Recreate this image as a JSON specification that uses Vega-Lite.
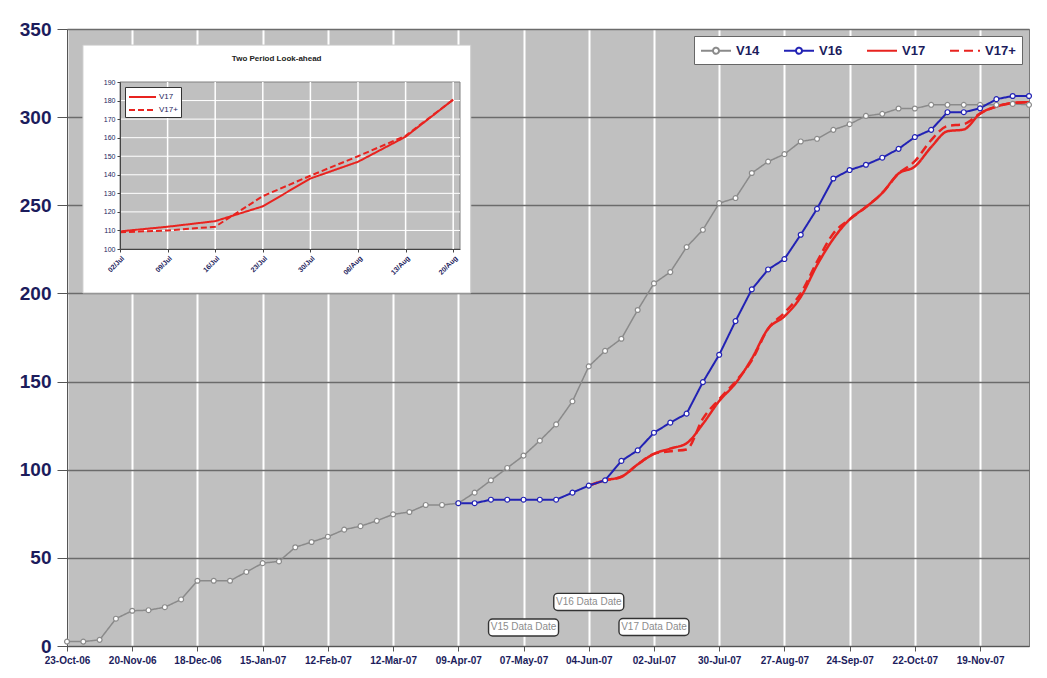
{
"$schema":"https://vega.github.io/schema/vega-lite/v6.json",
"width":962,"height":617,
"autosize":{"type":"none"},
"padding":{"left":67,"top":29,"right":18,"bottom":32},
"background":"white",
"config":{"font":"Liberation Sans","view":{"fill":"#c0c0c0","stroke":"#7a7a7a","strokeWidth":1}},
"data":{"values":[{}]},
"datasets":{
"main":[
{"series":"V14","date":"2006-10-23","value":2.5},{"series":"V14","date":"2006-10-30","value":2.5},{"series":"V14","date":"2006-11-06","value":3.5},{"series":"V14","date":"2006-11-13","value":15.5},{"series":"V14","date":"2006-11-20","value":20},{"series":"V14","date":"2006-11-27","value":20.3},{"series":"V14","date":"2006-12-04","value":22},{"series":"V14","date":"2006-12-11","value":26.4},{"series":"V14","date":"2006-12-18","value":37},{"series":"V14","date":"2006-12-25","value":37},{"series":"V14","date":"2007-01-01","value":37},{"series":"V14","date":"2007-01-08","value":42},{"series":"V14","date":"2007-01-15","value":47},{"series":"V14","date":"2007-01-22","value":48},{"series":"V14","date":"2007-01-29","value":56},{"series":"V14","date":"2007-02-05","value":59},{"series":"V14","date":"2007-02-12","value":62},{"series":"V14","date":"2007-02-19","value":66},{"series":"V14","date":"2007-02-26","value":68},{"series":"V14","date":"2007-03-05","value":71},{"series":"V14","date":"2007-03-12","value":74.7},{"series":"V14","date":"2007-03-19","value":76},{"series":"V14","date":"2007-03-26","value":80},{"series":"V14","date":"2007-04-02","value":80},{"series":"V14","date":"2007-04-09","value":81},{"series":"V14","date":"2007-04-16","value":87},{"series":"V14","date":"2007-04-23","value":94},{"series":"V14","date":"2007-04-30","value":101},{"series":"V14","date":"2007-05-07","value":108},{"series":"V14","date":"2007-05-14","value":116.5},{"series":"V14","date":"2007-05-21","value":125.7},{"series":"V14","date":"2007-05-28","value":138.8},{"series":"V14","date":"2007-06-04","value":158.6},{"series":"V14","date":"2007-06-11","value":167.4},{"series":"V14","date":"2007-06-18","value":174.3},{"series":"V14","date":"2007-06-25","value":190.6},{"series":"V14","date":"2007-07-02","value":205.7},{"series":"V14","date":"2007-07-09","value":212.1},{"series":"V14","date":"2007-07-16","value":226.3},{"series":"V14","date":"2007-07-23","value":236.1},{"series":"V14","date":"2007-07-30","value":251.2},{"series":"V14","date":"2007-08-06","value":254.1},{"series":"V14","date":"2007-08-13","value":268.3},{"series":"V14","date":"2007-08-20","value":274.8},{"series":"V14","date":"2007-08-27","value":279},{"series":"V14","date":"2007-09-03","value":286.2},{"series":"V14","date":"2007-09-10","value":287.7},{"series":"V14","date":"2007-09-17","value":292.8},{"series":"V14","date":"2007-09-24","value":296},{"series":"V14","date":"2007-10-01","value":300.7},{"series":"V14","date":"2007-10-08","value":301.9},{"series":"V14","date":"2007-10-15","value":304.9},{"series":"V14","date":"2007-10-22","value":304.9},{"series":"V14","date":"2007-10-29","value":307},{"series":"V14","date":"2007-11-05","value":307},{"series":"V14","date":"2007-11-12","value":307},{"series":"V14","date":"2007-11-19","value":307},{"series":"V14","date":"2007-11-26","value":307},{"series":"V14","date":"2007-12-03","value":307.5},{"series":"V14","date":"2007-12-10","value":307},
{"series":"V16","date":"2007-04-09","value":81},{"series":"V16","date":"2007-04-16","value":81},{"series":"V16","date":"2007-04-23","value":83},{"series":"V16","date":"2007-04-30","value":83},{"series":"V16","date":"2007-05-07","value":83},{"series":"V16","date":"2007-05-14","value":83},{"series":"V16","date":"2007-05-21","value":83},{"series":"V16","date":"2007-05-28","value":87},{"series":"V16","date":"2007-06-04","value":91},{"series":"V16","date":"2007-06-11","value":94},{"series":"V16","date":"2007-06-18","value":105},{"series":"V16","date":"2007-06-25","value":111},{"series":"V16","date":"2007-07-02","value":121},{"series":"V16","date":"2007-07-09","value":126.7},{"series":"V16","date":"2007-07-16","value":131.8},{"series":"V16","date":"2007-07-23","value":149.7},{"series":"V16","date":"2007-07-30","value":165.2},{"series":"V16","date":"2007-08-06","value":184.3},{"series":"V16","date":"2007-08-13","value":202.3},{"series":"V16","date":"2007-08-20","value":213.6},{"series":"V16","date":"2007-08-27","value":219.5},{"series":"V16","date":"2007-09-03","value":233.3},{"series":"V16","date":"2007-09-10","value":248},{"series":"V16","date":"2007-09-17","value":265.2},{"series":"V16","date":"2007-09-24","value":270},{"series":"V16","date":"2007-10-01","value":273},{"series":"V16","date":"2007-10-08","value":277},{"series":"V16","date":"2007-10-15","value":282},{"series":"V16","date":"2007-10-22","value":288.7},{"series":"V16","date":"2007-10-29","value":292.8},{"series":"V16","date":"2007-11-05","value":302.8},{"series":"V16","date":"2007-11-12","value":302.8},{"series":"V16","date":"2007-11-19","value":305},{"series":"V16","date":"2007-11-26","value":310.2},{"series":"V16","date":"2007-12-03","value":312},{"series":"V16","date":"2007-12-10","value":312},
{"series":"V17","date":"2007-06-04","value":91},{"series":"V17","date":"2007-06-11","value":94},{"series":"V17","date":"2007-06-18","value":96},{"series":"V17","date":"2007-06-25","value":103},{"series":"V17","date":"2007-07-02","value":109},{"series":"V17","date":"2007-07-09","value":112},{"series":"V17","date":"2007-07-16","value":115},{"series":"V17","date":"2007-07-23","value":126},{"series":"V17","date":"2007-07-30","value":139},{"series":"V17","date":"2007-08-06","value":149},{"series":"V17","date":"2007-08-13","value":163},{"series":"V17","date":"2007-08-20","value":180},{"series":"V17","date":"2007-08-27","value":187},{"series":"V17","date":"2007-09-03","value":198},{"series":"V17","date":"2007-09-10","value":216},{"series":"V17","date":"2007-09-17","value":231},{"series":"V17","date":"2007-09-24","value":242},{"series":"V17","date":"2007-10-01","value":249},{"series":"V17","date":"2007-10-08","value":257},{"series":"V17","date":"2007-10-15","value":268},{"series":"V17","date":"2007-10-22","value":272},{"series":"V17","date":"2007-10-29","value":283},{"series":"V17","date":"2007-11-05","value":292},{"series":"V17","date":"2007-11-12","value":293},{"series":"V17","date":"2007-11-19","value":302},{"series":"V17","date":"2007-11-26","value":306},{"series":"V17","date":"2007-12-03","value":308},{"series":"V17","date":"2007-12-10","value":308.5},
{"series":"V17+","date":"2007-06-04","value":91},{"series":"V17+","date":"2007-06-11","value":94},{"series":"V17+","date":"2007-06-18","value":96},{"series":"V17+","date":"2007-06-25","value":103},{"series":"V17+","date":"2007-07-02","value":109},{"series":"V17+","date":"2007-07-09","value":110.5},{"series":"V17+","date":"2007-07-16","value":111.5},{"series":"V17+","date":"2007-07-23","value":129},{"series":"V17+","date":"2007-07-30","value":140},{"series":"V17+","date":"2007-08-06","value":150},{"series":"V17+","date":"2007-08-13","value":162},{"series":"V17+","date":"2007-08-20","value":180},{"series":"V17+","date":"2007-08-27","value":189},{"series":"V17+","date":"2007-09-03","value":200},{"series":"V17+","date":"2007-09-10","value":218},{"series":"V17+","date":"2007-09-17","value":234},{"series":"V17+","date":"2007-09-24","value":242},{"series":"V17+","date":"2007-10-01","value":249},{"series":"V17+","date":"2007-10-08","value":257},{"series":"V17+","date":"2007-10-15","value":268},{"series":"V17+","date":"2007-10-22","value":275},{"series":"V17+","date":"2007-10-29","value":287},{"series":"V17+","date":"2007-11-05","value":295},{"series":"V17+","date":"2007-11-12","value":296},{"series":"V17+","date":"2007-11-19","value":302},{"series":"V17+","date":"2007-11-26","value":306},{"series":"V17+","date":"2007-12-03","value":308},{"series":"V17+","date":"2007-12-10","value":308.5}
],
"labels":[
{"label":"V15 Data Date","date":"2007-05-07","value":10.5},
{"label":"V16 Data Date","date":"2007-06-04","value":25},
{"label":"V17 Data Date","date":"2007-07-02","value":10.8}
],
"inset":[
{"series":"V17","date":"2007-07-02","value":109.5},{"series":"V17","date":"2007-07-09","value":112},{"series":"V17","date":"2007-07-16","value":115},{"series":"V17","date":"2007-07-23","value":123},{"series":"V17","date":"2007-07-30","value":138},{"series":"V17","date":"2007-08-06","value":147},{"series":"V17","date":"2007-08-13","value":160.5},{"series":"V17","date":"2007-08-20","value":180.5},
{"series":"V17+","date":"2007-07-02","value":109},{"series":"V17+","date":"2007-07-09","value":110},{"series":"V17+","date":"2007-07-16","value":112},{"series":"V17+","date":"2007-07-23","value":128.5},{"series":"V17+","date":"2007-07-30","value":139.5},{"series":"V17+","date":"2007-08-06","value":150},{"series":"V17+","date":"2007-08-13","value":161},{"series":"V17+","date":"2007-08-20","value":180.5}
],
"insetYGrid":[{"v":110},{"v":120},{"v":130},{"v":140},{"v":150},{"v":160},{"v":170},{"v":180}],
"insetXGrid":[{"d":"2007-07-09"},{"d":"2007-07-16"},{"d":"2007-07-23"},{"d":"2007-07-30"},{"d":"2007-08-06"},{"d":"2007-08-13"},{"d":"2007-08-20"}]
},
"resolve":{"scale":{"x":"independent","y":"independent","color":"independent","strokeDash":"independent"},"axis":{"x":"independent","y":"independent"},"legend":{"color":"independent","strokeDash":"independent"}},
"layer":[
{
"encoding":{
"x":{"field":"date","type":"temporal",
"scale":{"type":"utc","domain":[{"year":2006,"month":10,"date":23,"utc":true},{"year":2007,"month":12,"date":10,"utc":true}],"nice":false},
"axis":{"orient":"bottom","title":null,"format":"%d-%b-%y","values":[{"year":2006,"month":10,"date":23,"utc":true},{"year":2006,"month":11,"date":20,"utc":true},{"year":2006,"month":12,"date":18,"utc":true},{"year":2007,"month":1,"date":15,"utc":true},{"year":2007,"month":2,"date":12,"utc":true},{"year":2007,"month":3,"date":12,"utc":true},{"year":2007,"month":4,"date":9,"utc":true},{"year":2007,"month":5,"date":7,"utc":true},{"year":2007,"month":6,"date":4,"utc":true},{"year":2007,"month":7,"date":2,"utc":true},{"year":2007,"month":7,"date":30,"utc":true},{"year":2007,"month":8,"date":27,"utc":true},{"year":2007,"month":9,"date":24,"utc":true},{"year":2007,"month":10,"date":22,"utc":true},{"year":2007,"month":11,"date":19,"utc":true}],
"labelFontSize":10,"labelFontWeight":"bold","labelColor":"#1c1c5c","labelPadding":4,"labelFlush":false,"labelOverlap":false,"tickSize":5,"tickColor":"#555","domainColor":"#555","grid":true,"gridColor":"#ffffff","gridWidth":2,"gridOpacity":1}},
"y":{"field":"value","type":"quantitative",
"scale":{"domain":[0,350],"nice":false},
"axis":{"orient":"left","title":null,"values":[0,50,100,150,200,250,300,350],"labelFontSize":19,"labelFontWeight":"bold","labelColor":"#1c1c5c","labelPadding":6,"tickSize":10,"tickColor":"#555","domainColor":"#555","grid":true,"gridColor":"#6b6b6b","gridWidth":1.5,"gridOpacity":1}}
},
"layer":[
{"data":{"name":"main"},"transform":[{"filter":"datum.series === 'V14'"}],
"mark":{"type":"line","strokeWidth":1.5},
"encoding":{
"color":{"field":"series","type":"nominal","scale":{"domain":["V14","V16","V17","V17+"],"range":["#8a8a8a","#2222b4","#e8231f","#e8231f"]},
"legend":{"title":null,"orient":"top-right","offset":7,"direction":"horizontal","fillColor":"white","strokeColor":"#666","padding":6,"labelFontSize":13,"labelFontWeight":"bold","labelColor":"#1c1c5c","symbolType":"M-1,0L3,0","symbolSize":225,"symbolStrokeWidth":2,"symbolFillColor":"white","columnPadding":20,"labelOffset":19,"zindex":3,
"encode":{"symbols":{"update":{"shape":{"signal":"datum.value === 'V14' || datum.value === 'V16' ? 'M-1,0L0.6,0M1.4,0L3,0M0.6,0A0.4,0.4,0,1,1,1.4,0A0.4,0.4,0,1,1,0.6,0' : 'M-1,0L3,0'"},"fill":{"value":"white"}}}}}},
"strokeDash":{"field":"series","type":"nominal","scale":{"domain":["V14","V16","V17","V17+"],"range":[[1,0],[1,0],[1,0],[9,5]]},
"legend":{"title":null,"orient":"top-right","offset":7,"direction":"horizontal","fillColor":"white","strokeColor":"#666","padding":6,"labelFontSize":13,"labelFontWeight":"bold","labelColor":"#1c1c5c","symbolType":"M-1,0L3,0","symbolSize":225,"symbolStrokeWidth":2,"symbolFillColor":"white","columnPadding":20,"labelOffset":19,"zindex":3}}
}},
{"data":{"name":"main"},"transform":[{"filter":"datum.series === 'V17' || datum.series === 'V17+'"}],
"mark":{"type":"line","strokeWidth":2.5,"interpolate":"monotone"},
"encoding":{
"color":{"field":"series","type":"nominal"},
"strokeDash":{"field":"series","type":"nominal"}
}},
{"data":{"name":"main"},"transform":[{"filter":"datum.series === 'V16'"}],
"mark":{"type":"line","strokeWidth":2},
"encoding":{
"color":{"field":"series","type":"nominal"},
"strokeDash":{"field":"series","type":"nominal"}
}},
{"data":{"name":"main"},"transform":[{"filter":"datum.series === 'V14' || datum.series === 'V16'"}],
"mark":{"type":"point","shape":"circle","filled":true,"fill":"white","size":24,"strokeWidth":1.2,"opacity":1},
"encoding":{
"stroke":{"field":"series","type":"nominal","scale":{"domain":["V14","V16"],"range":["#8a8a8a","#2222b4"]},"legend":null}
}},
{"data":{"name":"labels"},
"mark":{"type":"point","shape":"M-0.886,-0.243L0.886,-0.243A0.114,0.114,0,0,1,1,-0.129L1,0.129A0.114,0.114,0,0,1,0.886,0.243L-0.886,0.243A0.114,0.114,0,0,1,-1,0.129L-1,-0.129A0.114,0.114,0,0,1,-0.886,-0.243Z","size":4900,"filled":true,"fill":"white","stroke":"#333","strokeWidth":1.4,"opacity":1}},
{"data":{"name":"labels"},
"mark":{"type":"text","fontSize":10,"color":"#8c8c8c"},
"encoding":{"text":{"field":"label"}}}
]
},
{
"layer":[
{"mark":{"type":"rect","fill":"white","stroke":"#c8c8c8","strokeWidth":1},
"encoding":{
"x":{"datum":{"year":2007,"month":6,"date":26,"hours":13,"utc":true},"type":"temporal",
"scale":{"type":"utc","domain":[{"year":2007,"month":7,"date":2,"utc":true},{"year":2007,"month":8,"date":21,"utc":true}],"range":[53,393],"nice":false},
"axis":{"orient":"bottom","offset":-397,"title":null,"format":"%d/%b","values":[{"year":2007,"month":7,"date":2,"utc":true},{"year":2007,"month":7,"date":9,"utc":true},{"year":2007,"month":7,"date":16,"utc":true},{"year":2007,"month":7,"date":23,"utc":true},{"year":2007,"month":7,"date":30,"utc":true},{"year":2007,"month":8,"date":6,"utc":true},{"year":2007,"month":8,"date":13,"utc":true},{"year":2007,"month":8,"date":20,"utc":true}],"labelAngle":-45,"labelFontSize":7,"labelFontWeight":"bold","labelColor":"#1c1c5c","labelPadding":2,"labelFlush":false,"labelOverlap":false,"tickSize":3,"tickColor":"#444","domainColor":"#444","grid":false,"zindex":2}},
"x2":{"datum":{"year":2007,"month":8,"date":22,"hours":14,"utc":true}},
"y":{"datum":209.9,"type":"quantitative",
"scale":{"domain":[100,190],"range":[220,53],"nice":false,"zero":false},
"axis":{"orient":"left","offset":-53,"title":null,"values":[100,110,120,130,140,150,160,170,180,190],"labelFontSize":7,"labelColor":"#1c1c5c","labelPadding":2,"tickSize":3,"tickColor":"#444","domainColor":"#444","grid":false,"zindex":2}},
"y2":{"datum":76.3}
}},
{"mark":{"type":"rect","fill":"#c0c0c0","stroke":"#808080","strokeWidth":1},
"encoding":{
"x":{"datum":{"year":2007,"month":7,"date":2,"utc":true},"type":"temporal"},
"x2":{"datum":{"year":2007,"month":8,"date":21,"utc":true}},
"y":{"datum":100,"type":"quantitative"},
"y2":{"datum":190}
}},
{"data":{"name":"insetYGrid"},"mark":{"type":"rule","color":"#ffffff","strokeWidth":1},
"encoding":{
"y":{"field":"v","type":"quantitative"},
"x":{"datum":{"year":2007,"month":7,"date":2,"utc":true},"type":"temporal"},
"x2":{"datum":{"year":2007,"month":8,"date":21,"utc":true}}
}},
{"data":{"name":"insetXGrid"},"mark":{"type":"rule","color":"#ffffff","strokeWidth":1.5},
"encoding":{
"x":{"field":"d","type":"temporal"},
"y":{"datum":100,"type":"quantitative"},
"y2":{"datum":190}
}},
{"data":{"name":"inset"},"mark":{"type":"line","strokeWidth":2},
"encoding":{
"x":{"field":"date","type":"temporal"},
"y":{"field":"value","type":"quantitative"},
"color":{"field":"series","type":"nominal","scale":{"domain":["V17","V17+"],"range":["#e8231f","#e8231f"]},
"legend":{"title":null,"orient":"top-left","offset":58,"direction":"vertical","fillColor":"white","strokeColor":"#333","padding":3,"labelFontSize":8,"labelColor":"#1c1c5c","symbolType":"M-1,0L3.5,0","symbolSize":144,"symbolStrokeWidth":2,"rowPadding":2,"labelOffset":17,"zindex":3}},
"strokeDash":{"field":"series","type":"nominal","scale":{"domain":["V17","V17+"],"range":[[1,0],[6,3]]},
"legend":{"title":null,"orient":"top-left","offset":58,"direction":"vertical","fillColor":"white","strokeColor":"#333","padding":3,"labelFontSize":8,"labelColor":"#1c1c5c","symbolType":"M-1,0L3.5,0","symbolSize":144,"symbolStrokeWidth":2,"rowPadding":2,"labelOffset":17,"zindex":3}}
}},
{"mark":{"type":"text","text":"Two Period Look-ahead","fontSize":8,"fontWeight":"bold","color":"#222"},
"encoding":{
"x":{"datum":{"year":2007,"month":7,"date":25,"hours":1,"utc":true},"type":"temporal"},
"y":{"datum":202.2,"type":"quantitative"}
}}
]
}
]
}
